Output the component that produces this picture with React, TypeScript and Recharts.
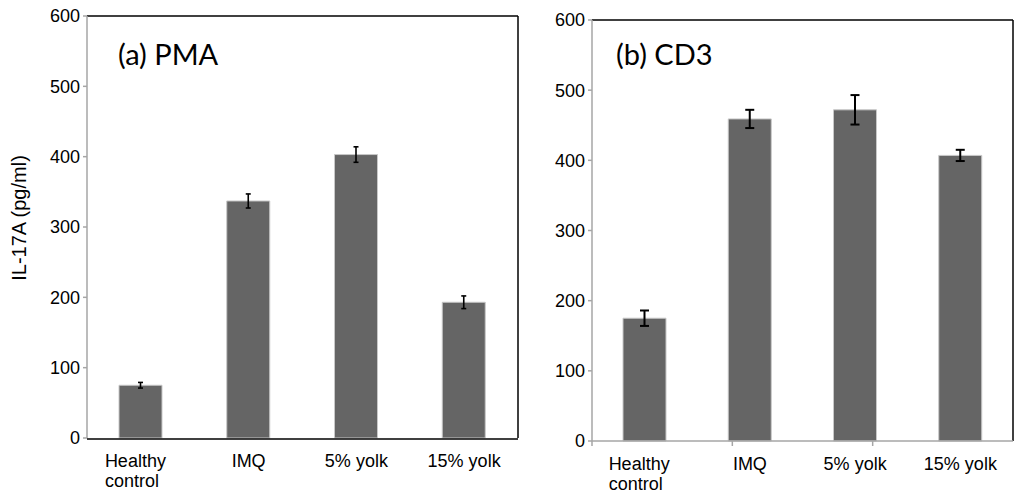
import React from 'react';
import { BarChart, Bar, XAxis, YAxis, ErrorBar, ReferenceLine } from 'recharts';

// categories and measured values (pg/ml)
const categories = ['Healthy\ncontrol', 'IMQ', '5% yolk', '15% yolk'];
const pmaValues = [75, 337, 403, 193];
const pmaErrors = [4, 10, 11, 9];
const cd3Values = [175, 459, 472, 407];
const cd3Errors = [11, 13, 21, 8];
const yTicks = [0, 100, 200, 300, 400, 500, 600];
const edgeTicks = [0, 1, 2, 3, 4];

const font = '"Liberation Sans", Arial, sans-serif';
const axisGray = '#a6a6a6';
const barFill = '#656565';

const pmaData = categories.map((name, i) => ({ name, value: pmaValues[i], err: pmaErrors[i] }));
const cd3Data = categories.map((name, i) => ({ name, value: cd3Values[i], err: cd3Errors[i] }));

function CategoryTick(props: any) {
  const { x, y, payload } = props;
  const lines = String(payload.value).split('\n');
  if (lines.length > 1) {
    return (
      <text x={x - 36} y={y + 28} fontSize={18} fontFamily={font} fill="#000" textAnchor="start">
        {lines.map((l, i) => (
          <tspan key={i} x={x - 36} dy={i === 0 ? 0 : 20}>{l}</tspan>
        ))}
      </text>
    );
  }
  return (
    <text x={x} y={y + 28} fontSize={18} fontFamily={font} fill="#000" textAnchor="middle">
      {payload.value}
    </text>
  );
}

const NoLabel = () => <g />;

const yTick = { fontSize: 18, fontFamily: font, fill: '#000' };

function Panel({ data, edgeTicksOn, capWidth, errWidth, margin, width }: any) {
  const last = data[data.length - 1].name;
  return (
    <BarChart width={width} height={493} data={data} margin={margin} barCategoryGap={0}>
      {/* numeric axis spanning the category bands, used for the boundary ticks */}
      <XAxis
        xAxisId="a"
        type="number"
        domain={[0, 4]}
        ticks={edgeTicks}
        hide={!edgeTicksOn}
        tick={<NoLabel />}
        height={1}
        axisLine={{ stroke: axisGray, strokeWidth: 1.5 }}
        tickLine={{ stroke: axisGray, strokeWidth: 1.5 }}
        tickSize={5}
      />
      <XAxis
        xAxisId="b"
        dataKey="name"
        height={edgeTicksOn ? 39 : 40}
        axisLine={edgeTicksOn ? false : { stroke: '#000', strokeWidth: 1.5 }}
        tickLine={false}
        tickSize={0}
        tickMargin={0}
        interval={0}
        tick={<CategoryTick />}
      />
      <YAxis
        domain={[0, 600]}
        ticks={yTicks}
        width={60}
        axisLine={{ stroke: axisGray, strokeWidth: 1.5 }}
        tickLine={{ stroke: axisGray, strokeWidth: 1.5 }}
        tickSize={4}
        tickMargin={3}
        tick={yTick}
      />
      {/* plot frame: top and right */}
      <ReferenceLine xAxisId="b" y={600} stroke="#000" strokeWidth={1.5} />
      <ReferenceLine xAxisId="b" x={last} position="end" stroke="#000" strokeWidth={1.5} ifOverflow="visible" />
      <Bar xAxisId="b" dataKey="value" fill={barFill} stroke="#c8c8c8" strokeWidth={1} barSize={43} isAnimationActive={false}>
        <ErrorBar dataKey="err" width={capWidth} stroke="#000" strokeWidth={errWidth} direction="y" />
      </Bar>
    </BarChart>
  );
}

export default function App() {
  return (
    <div style={{ position: 'absolute', left: 0, top: 0, width: 1025, height: 493, background: '#fff' }}>
      <div style={{ position: 'absolute', left: 0, top: 0 }}>
        <Panel data={pmaData} width={525} edgeTicksOn={false} capWidth={2.5} errWidth={1.6}
          margin={{ top: 16, right: 7, left: 27, bottom: 15 }} />
      </div>
      <div style={{ position: 'absolute', left: 525, top: 0 }}>
        <Panel data={cd3Data} width={500} edgeTicksOn={true} capWidth={4.5} errWidth={2}
          margin={{ top: 20, right: 12, left: 7, bottom: 12 }} />
      </div>
      <svg width={1025} height={493} style={{ position: 'absolute', left: 0, top: 0, pointerEvents: 'none' }}>
        <text x={26} y={218} transform="rotate(-90, 26, 218)" textAnchor="middle" fontSize={20} fontFamily={font} fill="#000">
          IL-17A (pg/ml)
        </text>
        <text x={118} y={65} fontSize={29} fontFamily="Lato, sans-serif" fill="#000">(a) PMA</text>
        <text x={616} y={65} fontSize={29} fontFamily="Lato, sans-serif" fill="#000">(b) CD3</text>
      </svg>
    </div>
  );
}
